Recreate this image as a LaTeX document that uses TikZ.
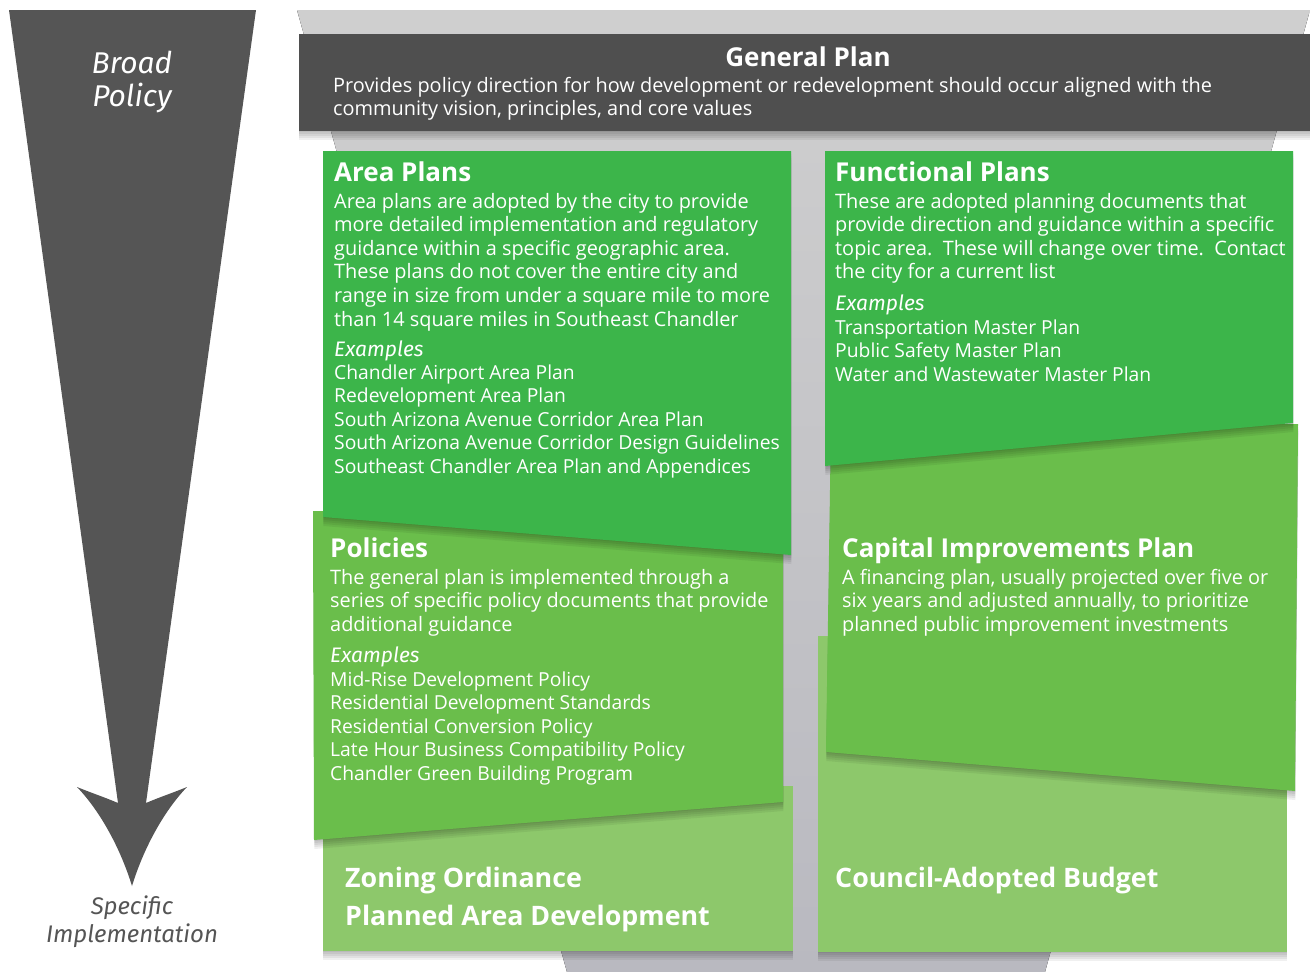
\documentclass[tikz,border=0pt]{standalone}
\usepackage{fontspec}
\setmainfont{Open Sans}
\newfontfamily\handfont{Fira Sans}
\usetikzlibrary{shadows}
\definecolor{arrowgray}{HTML}{555555}
\definecolor{gpgray}{HTML}{4F4F4F}
\definecolor{funtop}{HTML}{CFCFCF}
\definecolor{funbot}{HTML}{B9B9C0}
\definecolor{gA}{HTML}{3CB54A}
\definecolor{gB}{HTML}{6ABE4B}
\definecolor{gC}{HTML}{8DC86B}
\definecolor{labgray}{HTML}{555555}
\newcommand\softshade[1]{%
  \foreach \s in {1,3,5,7,9}{\fill[black, opacity=0.06, yshift=-\s pt, xshift=0.3pt] #1;}}
\begin{document}
\begin{tikzpicture}[x=1pt,y=-1pt,
  body/.style={font=\fontsize{19.9}{23.6}\selectfont, text=white, inner sep=0pt, anchor=base west, align=left},
  list/.style={font=\fontsize{19.3}{23.6}\selectfont, text=white, inner sep=0pt, anchor=base west, align=left},
  ttl/.style={font=\fontsize{26}{30}\selectfont\bfseries, text=white, inner sep=0pt, anchor=base west},
  big/.style={font=\fontsize{26.8}{38}\selectfont\bfseries, text=white, inner sep=0pt, anchor=base west, align=left},
  ex/.style={font=\handfont\itshape\fontsize{21}{24}\selectfont, text=white, inner sep=0pt, anchor=base west},
  handA/.style={font=\handfont\itshape\fontsize{30}{33}\selectfont, inner sep=0pt, anchor=base, align=center},
  handB/.style={font=\handfont\itshape\fontsize{24}{28}\selectfont, inner sep=0pt, anchor=base, align=center}
]
\useasboundingbox (0,0) rectangle (1310,972);
\fill[white] (0,0) rectangle (1310,972);

% funnel background
\fill[top color=funtop, bottom color=funbot] (297,10) -- (1310,10) -- (1045,972) -- (567,972) -- cycle;

% big arrow
\fill[arrowgray] (9,10) -- (256,10) -- (146,803)
  .. controls (160,797) and (175,792) .. (187,787)
  .. controls (163,812) and (143,850) .. (132,886)
  .. controls (121,850) and (101,812) .. (77,787)
  .. controls (89,792) and (104,797) .. (118,803) -- cycle;
% (multi-line nodes: base anchor = baseline of last line)
\node[handA, text=white] (broad) at (132,106) {Broad\\Policy};
\node[handB, text=labgray] (spec) at (132,942) {Specific\\Implementation};

% general plan
\softshade{(299,34) rectangle (1310,131)}
\fill[gpgray] (299,34) rectangle (1310,131);
\node[ttl, anchor=base] (gpT) at (808,66) {General Plan};
\node[body] (gpB) at (333,115.6) {Provides policy direction for how development or redevelopment should occur aligned with the\\community vision, principles, and core values};

% left column
\softshade{(323,786) -- (793,786) -- (793,951) -- (323,951) -- cycle}
\fill[gC] (323,786) -- (793,786) -- (793,951) -- (323,951) -- cycle;
\node[big] (zon) at (345,925) {Zoning Ordinance\\Planned Area Development};

\softshade{(313,511) -- (783,511) -- (783,802) -- (314,840) -- cycle}
\fill[gB] (313,511) -- (783,511) -- (783,802) -- (314,840) -- cycle;
\node[ttl] (polT) at (330,557) {Policies};
\node[body] (polB) at (330,631.2) {The general plan is implemented through a\\series of specific policy documents that provide\\additional guidance};
\node[ex] (polE) at (330,662) {Examples};
\node[list] (polL) at (330,780.4) {Mid-Rise Development Policy\\Residential Development Standards\\Residential Conversion Policy\\Late Hour Business Compatibility Policy\\Chandler Green Building Program};

\softshade{(323,151) -- (791,151) -- (791,555) -- (323,517) -- cycle}
\fill[gA] (323,151) -- (791,151) -- (791,555) -- (323,517) -- cycle;
\node[ttl] (apT) at (334,181) {Area Plans};
\node[body] (apB) at (334,326) {Area plans are adopted by the city to provide\\more detailed implementation and regulatory\\guidance within a specific geographic area.\\These plans do not cover the entire city and\\range in size from under a square mile to more\\than 14 square miles in Southeast Chandler};
\node[ex] (apE) at (334,356) {Examples};
\node[list] (apL) at (334,473.4) {Chandler Airport Area Plan\\Redevelopment Area Plan\\South Arizona Avenue Corridor Area Plan\\South Arizona Avenue Corridor Design Guidelines\\Southeast Chandler Area Plan and Appendices};

% right column
\softshade{(818,636) -- (1287,636) -- (1287,952) -- (818,952) -- cycle}
\fill[gC] (818,636) -- (1287,636) -- (1287,952) -- (818,952) -- cycle;
\node[big] (cab) at (835,887) {Council-Adopted Budget};

\softshade{(831,424) -- (1298,424) -- (1295,791) -- (826,752) -- cycle}
\fill[gB] (831,424) -- (1298,424) -- (1295,791) -- (826,752) -- cycle;
\node[ttl] (cipT) at (842,557) {Capital Improvements Plan};
\node[body] (cipB) at (842,631.2) {A financing plan, usually projected over five or\\six years and adjusted annually, to prioritize\\planned public improvement investments};

\softshade{(825,151) -- (1293,151) -- (1293,423) -- (825,466) -- cycle}
\fill[gA] (825,151) -- (1293,151) -- (1293,423) -- (825,466) -- cycle;
\node[ttl] (fpT) at (835,181) {Functional Plans};
\node[body] (fpB) at (835,278.8) {These are adopted planning documents that\\provide direction and guidance within a specific\\topic area.\ \ These will change over time.\ \ Contact\\the city for a current list};
\node[ex] (fpE) at (835,310) {Examples};
\node[list] (fpL) at (835,381.2) {Transportation Master Plan\\Public Safety Master Plan\\Water and Wastewater Master Plan};
\end{tikzpicture}
\end{document}
